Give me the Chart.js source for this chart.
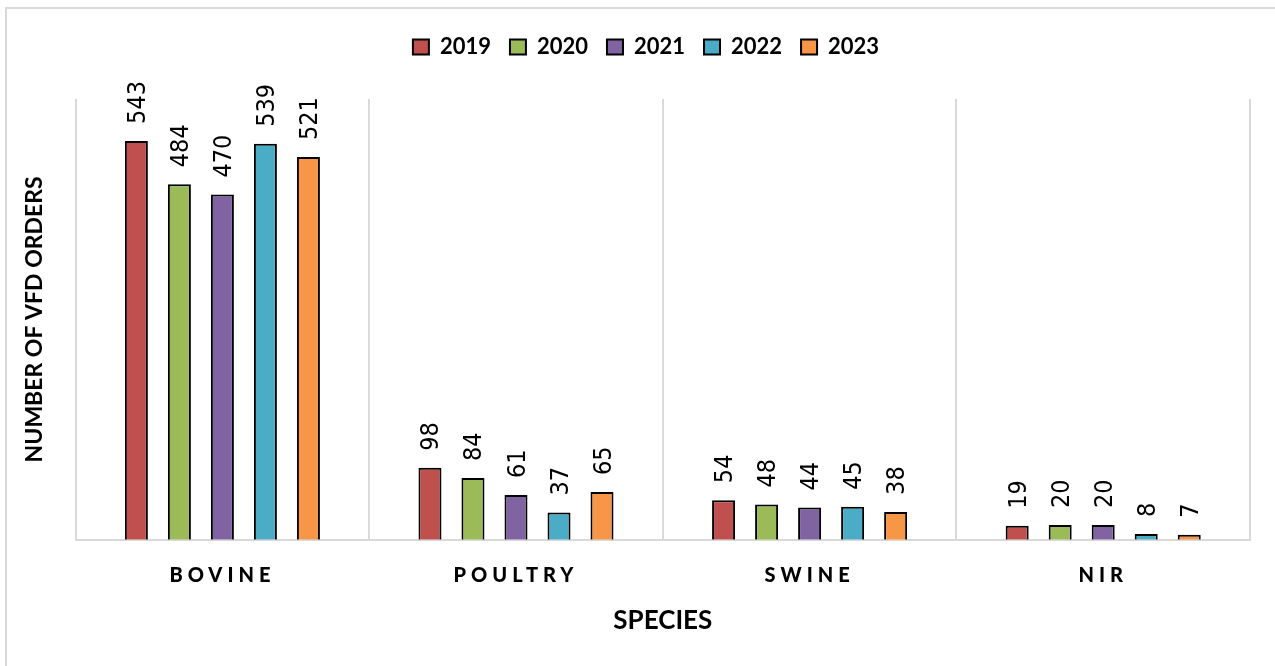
<!DOCTYPE html>
<html>
<head>
<meta charset="utf-8">
<script src="https://cdn.jsdelivr.net/npm/chart.js@4.4.1/dist/chart.umd.min.js"></script>
<style>
	html, body { margin: 0; padding: 0; background: #fff; overflow: hidden; }
	#frame { position: absolute; left: 5px; top: 7px; width: 1300px; height: 700px; border: 2px solid #d9d9d9; }
	#wrap { position: absolute; left: 0; top: 0; width: 1275px; height: 666px; }
</style>
</head>
<body>
<div id="frame"></div>
<div id="wrap"><canvas id="vfdChart"></canvas></div>
<script>
const species = ['BOVINE', 'POULTRY', 'SWINE', 'NIR'];
const years = ['2019', '2020', '2021', '2022', '2023'];
const colors = ['#C0504D', '#9BBB59', '#8064A2', '#4BACC6', '#F79646'];

const orders2019 = [543, 98, 54, 19];
const orders2020 = [484, 84, 48, 20];
const orders2021 = [470, 61, 44, 20];
const orders2022 = [539, 37, 45, 8];
const orders2023 = [521, 65, 38, 7];

const allOrders = [orders2019, orders2020, orders2021, orders2022, orders2023];

// rotated value labels above each bar
const barLabels = {
	id: 'barLabels',
	afterLayout(chart) {
		// legend sits a little right of the canvas centre in the original
		chart.legend.left += 11;
		chart.legend.right += 11;
	},
	afterDatasetsDraw(chart) {
		const ctx = chart.ctx;
		ctx.save();
		ctx.font = "25px 'Liberation Sans Narrow', 'DejaVu Sans Condensed', sans-serif";
		ctx.fillStyle = '#000';
		ctx.textAlign = 'left';
		ctx.textBaseline = 'middle';
		chart.data.datasets.forEach((ds, i) => {
			chart.getDatasetMeta(i).data.forEach((bar, j) => {
				ctx.save();
				ctx.translate(bar.x + 2, bar.y - 17);
				ctx.rotate(-Math.PI / 2);
				ctx.fillText(String(ds.data[j]), 0, 0);
				ctx.restore();
			});
		});
		ctx.restore();
		// spaced out category labels (x ticks are drawn after this, z = 1)
		ctx.letterSpacing = '5px';
	},
	afterDraw(chart) {
		chart.ctx.letterSpacing = '0px';
	}
};

let datasets = years.map((y, i) => ({
	label: y,
	data: allOrders[i],
	backgroundColor: colors[i],
	borderColor: '#000',
	borderWidth: 2,
	categoryPercentage: 0.7325,
	barPercentage: 0.535
}));

let config = {
	type: 'bar',
	data: {
		labels: species,
		datasets: datasets
	},
	options: {
		responsive: false,
		animation: false,
		layout: {
			padding: { top: 17, left: 20, right: 25, bottom: 26 }
		},
		scales: {
			x: {
				grid: {
					display: true,
					offset: true,
					color: '#d9d9d9',
					lineWidth: 2,
					drawTicks: false
				},
				border: { display: true, color: '#d9d9d9', width: 2 },
				ticks: {
					z: 1,
					padding: 24,
					color: '#000',
					font: { family: 'Lato', size: 20, weight: '900' }
				},
				title: {
					display: true,
					text: 'SPECIES',
					color: '#000',
					padding: { top: -7, bottom: 4 },
					font: { family: 'Lato', size: 26, weight: 'bold' }
				}
			},
			y: {
				min: 0,
				max: 600,
				grid: { display: false },
				border: { display: false },
				ticks: { display: false },
				title: {
					display: true,
					text: 'NUMBER OF VFD ORDERS',
					color: '#000',
					padding: { top: 1, bottom: 19 },
					font: { family: 'Lato', size: 23, weight: 'bold' }
				}
			}
		},
		plugins: {
			legend: {
				position: 'top',
				weight: 1000,
				labels: {
					boxWidth: 16,
					boxHeight: 15,
					padding: 19,
					color: '#000',
					font: { family: 'Lato', size: 22, weight: 'bold' }
				}
			},
			// empty spacer between legend and plot area
			title: {
				display: true,
				text: '',
				weight: 500,
				padding: { top: 10, bottom: 9 },
				font: { size: 10 }
			},
			tooltip: { enabled: false }
		}
	},
	plugins: [barLabels]
};

let canvas = document.getElementById('vfdChart');
canvas.width = 1275;
canvas.height = 666;
let chart = new Chart(canvas.getContext('2d'), config);
</script>
</body>
</html>
